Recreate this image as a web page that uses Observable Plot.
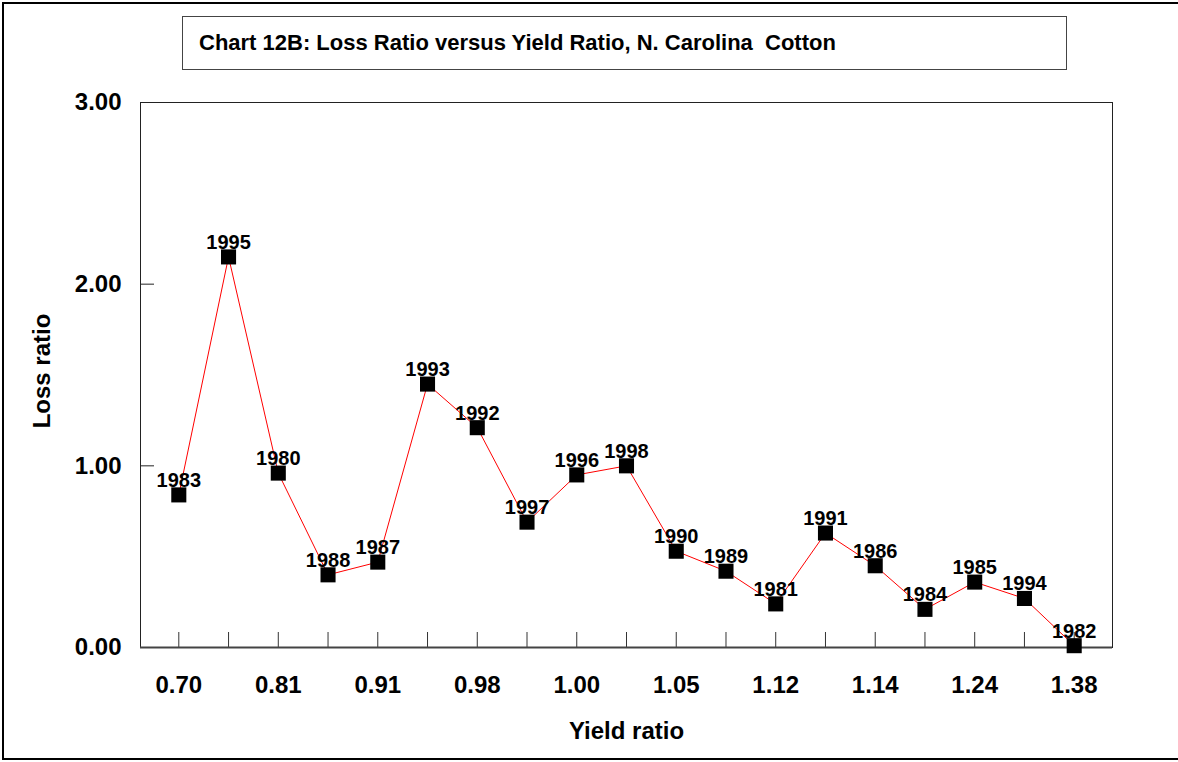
<!DOCTYPE html>
<html>
<head>
<meta charset="utf-8">
<script src="https://cdn.jsdelivr.net/npm/d3@7"></script>
<script src="https://cdn.jsdelivr.net/npm/@observablehq/plot@0.6"></script>
<style>
  html, body { margin: 0; padding: 0; background: #fff; overflow: hidden; }
  #wrap { position: relative; width: 1178px; height: 762px; font-family: Arial, "Liberation Sans", sans-serif; }
  #border { position: absolute; left: 2px; top: 2px; width: 1190px; height: 758px; border: 2px solid #000; box-sizing: border-box; }
  #title { position: absolute; left: 182px; top: 16px; width: 885px; height: 54px; border: 1px solid #444; box-sizing: border-box;
           display: flex; align-items: center; padding-left: 16px; font-weight: bold; font-size: 22px; white-space: pre; color: #000; }
  #chart { position: absolute; left: 0; top: 0; }
</style>
</head>
<body>
<div id="wrap">
  <div id="border"></div>
  <div id="chart"></div>
  <div id="title"></div>
</div>
<script>
const titleText = "Chart 12B: Loss Ratio versus Yield Ratio, N. Carolina  Cotton";
const xLabel = "Yield ratio";
const yLabel = "Loss ratio";

// yield ratio categories in plotted order (every other one is labelled in the source)
const yieldRatios = ["0.70","0.76","0.81","0.86","0.91","0.94","0.98","0.99","1.00","1.02","1.05","1.09","1.12","1.13","1.14","1.19","1.24","1.30","1.38"];
const years      = [1983, 1995, 1980, 1988, 1987, 1993, 1992, 1997, 1996, 1998, 1990, 1989, 1981, 1991, 1986, 1984, 1985, 1994, 1982];
const lossRatios = [0.84, 2.15, 0.96, 0.40, 0.47, 1.45, 1.21, 0.69, 0.95, 1.00, 0.53, 0.42, 0.24, 0.63, 0.45, 0.21, 0.36, 0.27, 0.01];
const xTickLabels = ["0.70","0.81","0.91","0.98","1.00","1.05","1.12","1.14","1.24","1.38"];
const yTicks = [0, 1, 2, 3];

document.getElementById("title").textContent = titleText;

const data = yieldRatios.map((r, i) => ({ratio: r, year: years[i], loss: lossRatios[i]}));

const W = 1178, H = 762;
const mL = 140, mR = 66, mT = 102, mB = 115;
const frameW = W - mL - mR, frameH = H - mT - mB;

const chart = Plot.plot({
  width: W,
  height: H,
  marginLeft: mL,
  marginRight: mR,
  marginTop: mT,
  marginBottom: mB,
  style: {fontFamily: "Arial, 'Liberation Sans', sans-serif", fontSize: "24px", fontWeight: "bold", color: "#000", background: "transparent", overflow: "visible"},
  x: {type: "point", domain: yieldRatios, padding: 0.77, round: false},
  y: {domain: [0, 3]},
  marks: [
    Plot.frame({stroke: "#222", strokeWidth: 1}),
    Plot.ruleY(yTicks, {y: d => d, insetRight: frameW - 14, stroke: "#222", strokeWidth: 1}),
    Plot.ruleX(yieldRatios, {x: d => d, insetTop: frameH - 15, stroke: "#333", strokeWidth: 1}),
    Plot.ruleY([0], {stroke: "#444", strokeWidth: 2}),
    Plot.axisY({ticks: yTicks, tickFormat: d => d.toFixed(2), tickSize: 0, tickPadding: 19, label: null, fontSize: 24}),
    Plot.axisX({ticks: xTickLabels, tickSize: 0, tickPadding: 28, label: null, fontSize: 24}),
    Plot.text([xLabel], {text: d => d, frameAnchor: "bottom", textAnchor: "middle", dy: 91, lineAnchor: "bottom", fontSize: 24, fontWeight: "bold", fill: "#000"}),
    Plot.text([yLabel], {text: d => d, frameAnchor: "left", textAnchor: "middle", dx: -91, dy: -4, rotate: -90, lineAnchor: "bottom", fontSize: 24, fontWeight: "bold", fill: "#000"}),
    Plot.line(data, {x: "ratio", y: "loss", stroke: "#ff0000", strokeWidth: 1}),
    Plot.dot(data, {x: "ratio", y: "loss", symbol: "square", r: 8.5, fill: "#000", stroke: "none"}),
    Plot.text(data, {x: "ratio", y: "loss", text: d => String(d.year), dy: -8, lineAnchor: "bottom", fontSize: 20, fontWeight: "bold", fill: "#000"})
  ]
});
document.getElementById("chart").appendChild(chart);
</script>
</body>
</html>
